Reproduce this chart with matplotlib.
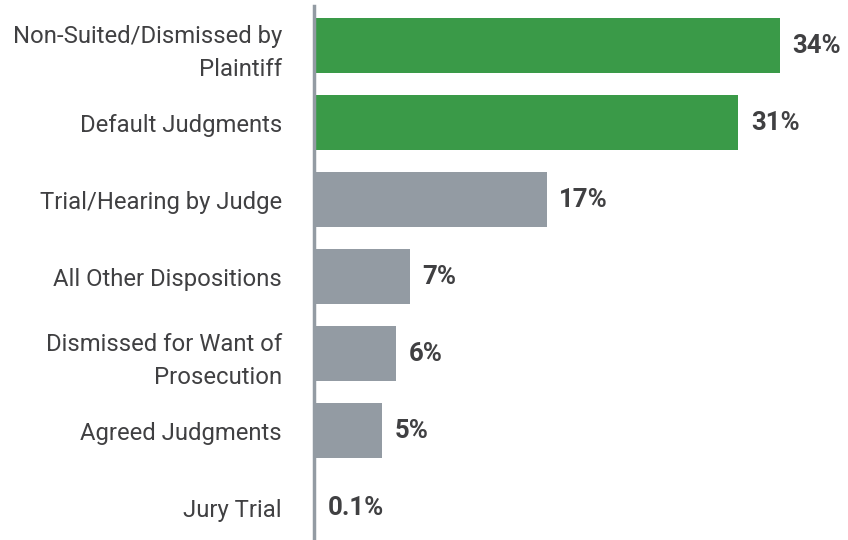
import matplotlib
matplotlib.use('Agg')
import matplotlib.pyplot as plt

plt.rcParams['font.family'] = ['Roboto', 'DejaVu Sans']

categories = ['Non-Suited/Dismissed by\nPlaintiff', 'Default Judgments',
              'Trial/Hearing by Judge', 'All Other Dispositions',
              'Dismissed for Want of\nProsecution', 'Agreed Judgments', 'Jury Trial']
values = [34, 31, 17, 7, 6, 5, 0.1]
labels = ['34%', '31%', '17%', '7%', '6%', '5%', '0.1%']
highlight = [True, True, False, False, False, False, False]

green = '#3a9a48'
grey = '#939ba3'
text_col = '#404042'

fig = plt.figure(figsize=(8.48, 5.4), dpi=100)
ax = fig.add_axes([314 / 848, 0, 1 - 314 / 848, 1])

ys = range(len(values))
colors = [green if h else grey for h in highlight]
ax.barh(ys, values, height=0.714, color=colors, left=0)

for y, v, lab in zip(ys, values, labels):
    ax.text(v + 0.9, y, lab, va='center', ha='left', fontsize=18.5,
            fontweight='bold', color=text_col)

ax.set_xlim(0, 39)
ax.set_ylim(6.422, -0.591)
ax.set_yticks(list(ys))
ax.set_yticklabels(categories, fontsize=17.2, color=text_col, linespacing=1.55)
ax.tick_params(axis='y', length=0, pad=23)
ax.set_xticks([])
for s in ['top', 'right', 'bottom']:
    ax.spines[s].set_visible(False)
ax.spines['left'].set_color('#939ba3')
ax.spines['left'].set_linewidth(2.5)
ax.spines['left'].set_bounds(-0.513, 6.422)
ax.patch.set_alpha(0)
for t in ax.get_yticklabels():
    t.set_horizontalalignment('right')

fig.savefig('out.png', dpi=100)
